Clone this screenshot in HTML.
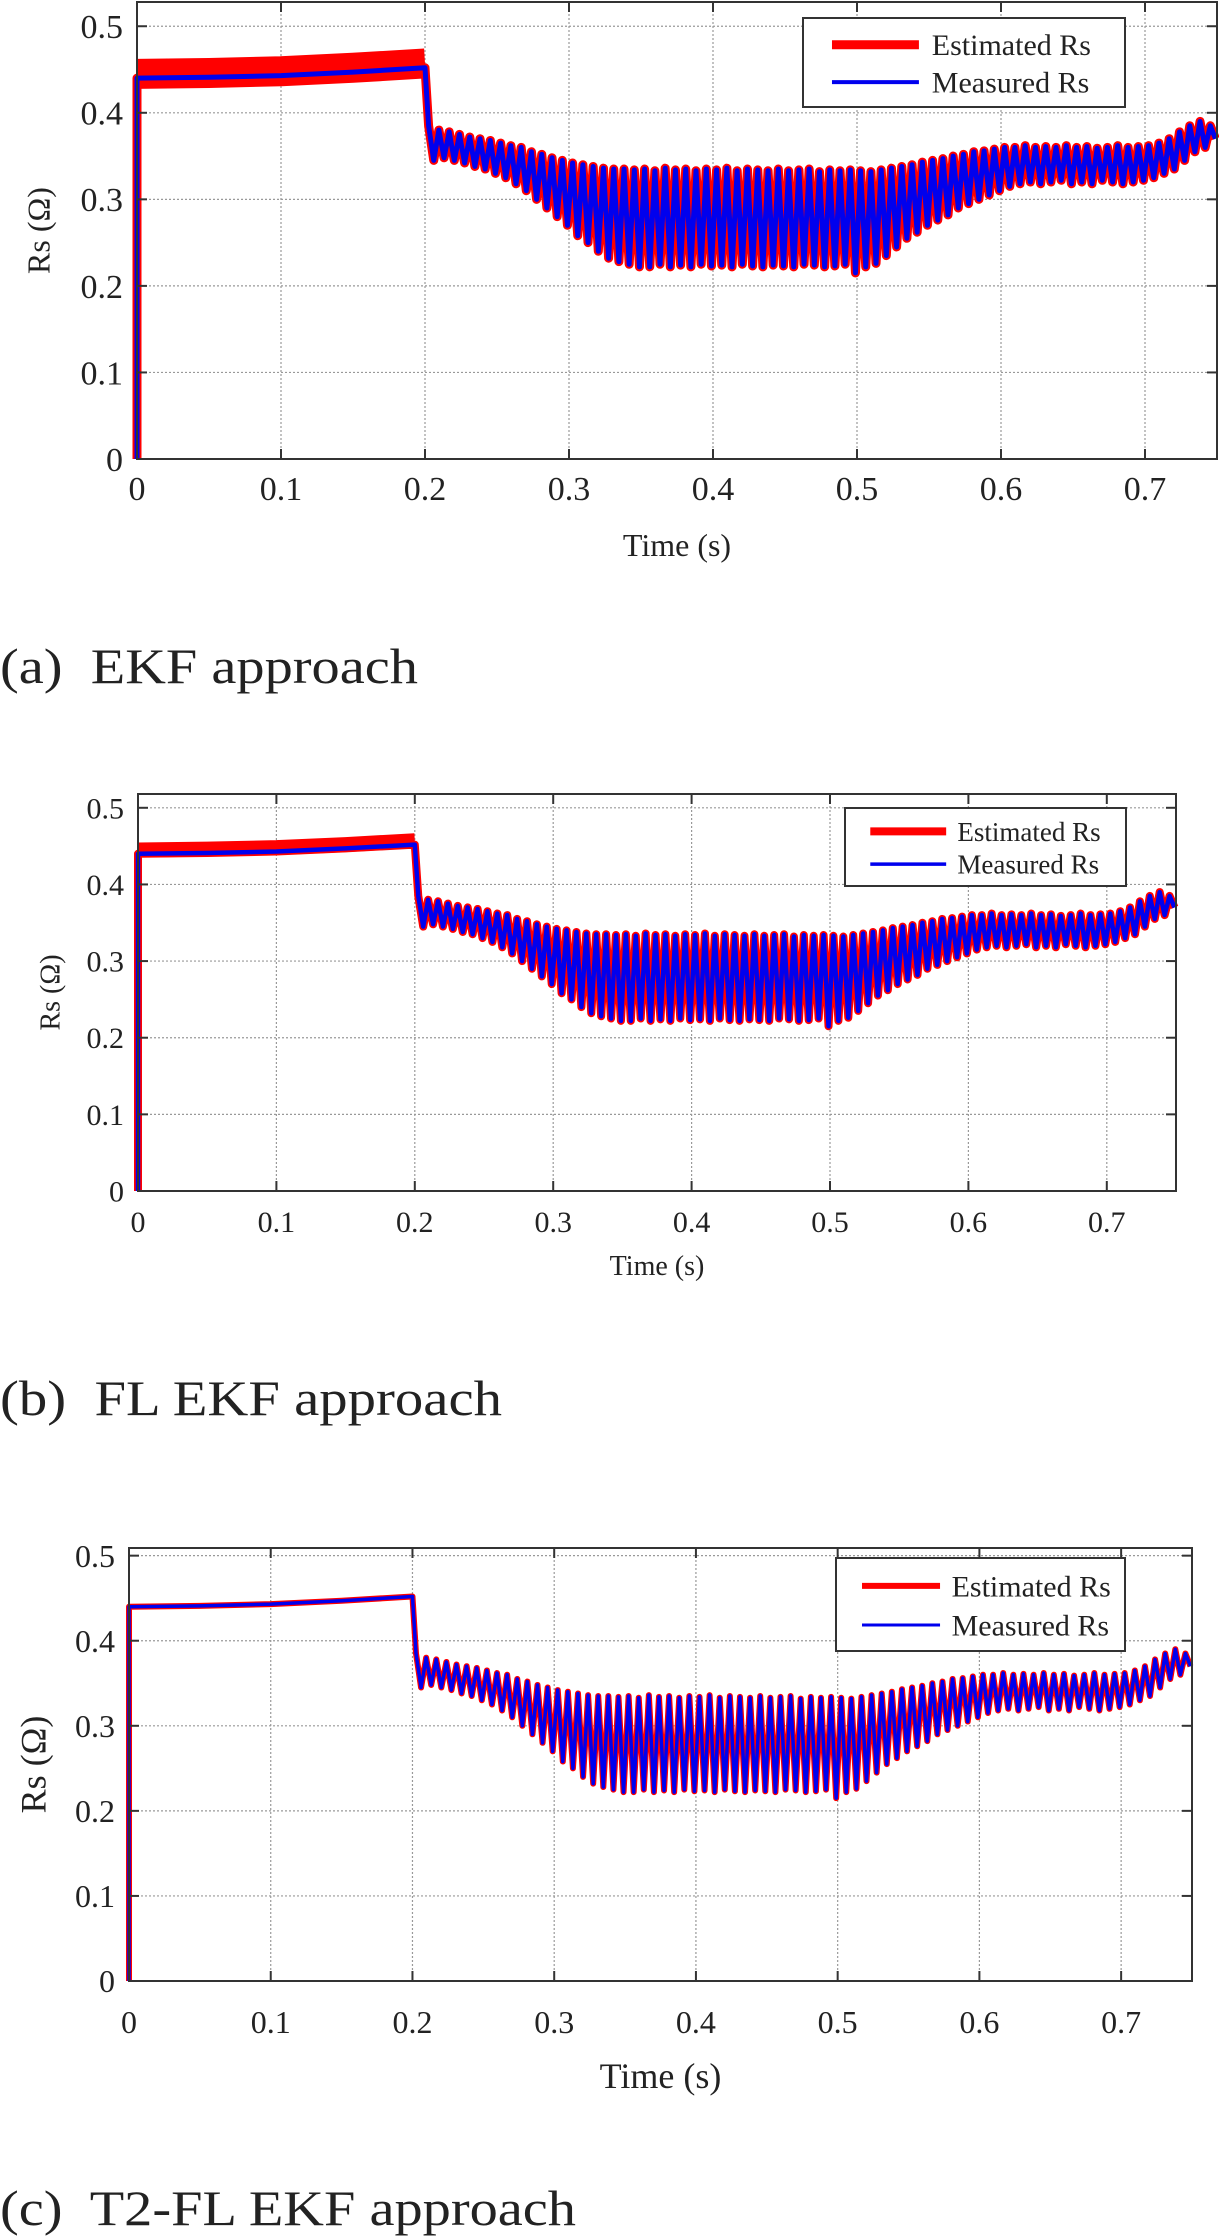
<!DOCTYPE html>
<html><head><meta charset="utf-8"><style>
html,body{margin:0;padding:0;background:#fff}
svg{display:block}
text{font-family:"Liberation Serif","Times New Roman",serif;fill:#222}
.cap{white-space:pre}
</style></head><body>
<svg id="fig" width="1219" height="2238" viewBox="0 0 1219 2238" xmlns="http://www.w3.org/2000/svg"></svg>
<script>
// ---- data ----
const xTicks = [0, 0.1, 0.2, 0.3, 0.4, 0.5, 0.6, 0.7];
const yTicks = [0, 0.1, 0.2, 0.3, 0.4, 0.5];
const startT = [0, 0.05, 0.1, 0.15, 0.2];
const startV = [0.44, 0.441, 0.443, 0.447, 0.452];
const cycleStart = 0.2;
const cycleEnd = 0.75;
const peaks = [0.385,0.38,0.378,0.375,0.372,0.37,0.368,
0.365,0.362,0.36,0.355,0.352,0.348,0.345,
0.342,0.34,0.338,0.336,0.335,0.335,0.334,
0.335,0.333,0.336,0.334,0.335,0.333,0.335,
0.334,0.336,0.333,0.335,0.334,0.333,0.335,
0.333,0.334,0.335,0.332,0.334,0.333,0.334,
0.333,0.332,0.334,0.336,0.338,0.34,0.343,
0.345,0.347,0.35,0.352,0.355,0.356,0.358,
0.36,0.36,0.362,0.36,0.361,0.36,0.362,
0.36,0.361,0.359,0.36,0.362,0.36,0.361,
0.362,0.365,0.37,0.378,0.385,0.39,0.385];
const troughs = [0.345,0.348,0.345,0.342,0.338,0.335,0.33,
0.325,0.318,0.31,0.3,0.29,0.28,0.27,
0.258,0.25,0.24,0.232,0.228,0.225,0.222,
0.222,0.225,0.222,0.224,0.222,0.225,0.223,
0.224,0.222,0.225,0.223,0.222,0.224,0.223,
0.222,0.225,0.224,0.222,0.223,0.225,0.215,
0.222,0.226,0.235,0.245,0.255,0.262,0.27,
0.276,0.282,0.29,0.295,0.3,0.305,0.31,
0.315,0.318,0.32,0.318,0.32,0.322,0.318,
0.32,0.318,0.322,0.32,0.318,0.32,0.322,
0.325,0.33,0.335,0.345,0.355,0.36,0.37];

const panels = [
 {id:'a',L:137,R:1217,T:2,B:459,ymax:0.528,tf:34,yl:42,xb:500,tb:556,lf:32,
  leg:[803,18,1125,107],lgf:30,redW:9,blueW:5,bandW:30,cap:'(a)  EKF approach',capY:683,capW:418},
 {id:'b',L:138,R:1176,T:794,B:1191,ymax:0.518,tf:30,yl:53,xb:1232,tb:1275,lf:28,
  leg:[845,808,1126,886],lgf:27,redW:8,blueW:4.5,bandW:15,cap:'(b)  FL EKF approach',capY:1415,capW:502},
 {id:'c',L:129,R:1192,T:1548,B:1981,ymax:0.509,tf:32,yl:37,xb:2033,tb:2088,lf:36,
  leg:[836,1558,1125,1651],lgf:30,redW:6,blueW:3.5,bandW:0,cap:'(c)  T2-FL EKF approach',capY:2225,capW:576}
];

const NS='http://www.w3.org/2000/svg';
const svg=document.getElementById('fig');
function mk(tag,attrs,parent,txt){const e=document.createElementNS(NS,tag);for(const k in attrs)e.setAttribute(k,attrs[k]);if(txt!==undefined)e.textContent=txt;(parent||svg).appendChild(e);return e;}

panels.forEach(p=>{
  const g=mk('g',{});
  
  
  const X=t=>p.L+(t/0.75)*(p.R-p.L);
  const Y=v=>p.B-(v/p.ymax)*(p.B-p.T);
  xTicks.forEach(t=>{
    const l=mk('line',{x1:X(t),x2:X(t),y1:p.T,y2:p.B,stroke:'#999','stroke-width':1.2,'stroke-dasharray':'2,2'},g);
    
    
  });
  yTicks.forEach(v=>{
    const l=mk('line',{x1:p.L,x2:p.R,y1:Y(v),y2:Y(v),stroke:'#999','stroke-width':1.2,'stroke-dasharray':'2,2'},g);
    
    
  });
  const P=(cycleEnd-cycleStart)/peaks.length;
  let d='M'+X(0)+','+Y(0);
  for(let i=0;i<startT.length;i++) d+=' L'+X(startT[i])+','+Y(startV[i]);
  for(let i=0;i<peaks.length;i++){
    const t0=cycleStart+i*P;
    d+=' L'+X(t0+P*0.35)+','+Y(peaks[i]);
    d+=' L'+X(t0+P*0.85)+','+Y(troughs[i]);
  }
  let d1='';
  for(let i=0;i<startT.length;i++) d1+=(i?' L':'M')+X(startT[i])+','+Y(startV[i]+0.005);
  if(p.bandW>0){
    const band=mk('path',{d:d1,fill:'none',stroke:'#ff0000','stroke-width':p.bandW,'stroke-linejoin':'round'},g);
    
    
  }
  const est=mk('path',{d:d,fill:'none',stroke:'#ff0000','stroke-width':p.redW,'stroke-linejoin':'round'},g);
  
  
  const meas=mk('path',{d:d,fill:'none',stroke:'#0000ee','stroke-width':p.blueW,'stroke-linejoin':'round'},g);
  
  
  const box=mk('rect',{x:p.L,y:p.T,width:p.R-p.L,height:p.B-p.T,fill:'none',stroke:'#333','stroke-width':2},g);
  
  
  xTicks.forEach(t=>{
    mk('line',{x1:X(t),x2:X(t),y1:p.B,y2:p.B-10,stroke:'#333','stroke-width':2},g);
    mk('line',{x1:X(t),x2:X(t),y1:p.T,y2:p.T+10,stroke:'#333','stroke-width':2},g);
    const tl=mk('text',{x:X(t),y:p.xb,'font-size':p.tf,'text-anchor':'middle'},g,String(t));
    
    
  });
  yTicks.forEach(v=>{
    mk('line',{x1:p.L,x2:p.L+10,y1:Y(v),y2:Y(v),stroke:'#333','stroke-width':2},g);
    mk('line',{x1:p.R,x2:p.R-10,y1:Y(v),y2:Y(v),stroke:'#333','stroke-width':2},g);
    const tl=mk('text',{x:p.L-14,y:Y(v)+p.tf*0.35,'font-size':p.tf,'text-anchor':'end'},g,String(v));
    
    
  });
  const xt=mk('text',{x:(p.L+p.R)/2,y:p.tb,'font-size':p.lf,'text-anchor':'middle'},g,'Time (s)');
  
  
  const yc=(p.T+p.B)/2;
  const yt=mk('text',{x:p.yl,y:yc,'font-size':p.lf,'text-anchor':'middle',transform:'rotate(-90 '+p.yl+' '+yc+')','dominant-baseline':'middle'},g,'Rs (Ω)');
  
  
  const [lx1,ly1,lx2,ly2]=p.leg;
  const lg=mk('g',{},g);
  
  
  mk('rect',{x:lx1,y:ly1,width:lx2-lx1,height:ly2-ly1,fill:'#fff',stroke:'#333','stroke-width':2},lg);
  const h=ly2-ly1, r1=ly1+h*0.3, r2=ly1+h*0.72;
  const w=lx2-lx1;
  mk('line',{x1:lx1+w*0.09,x2:lx1+w*0.36,y1:r1,y2:r1,stroke:'#ff0000','stroke-width':p.redW},lg);
  mk('line',{x1:lx1+w*0.09,x2:lx1+w*0.36,y1:r2,y2:r2,stroke:'#0000ee','stroke-width':Math.max(3,p.blueW-1)},lg);
  const e1=mk('text',{x:lx1+w*0.4,y:r1+p.lgf*0.35,'font-size':p.lgf},lg,'Estimated Rs');
  
  
  const e2=mk('text',{x:lx1+w*0.4,y:r2+p.lgf*0.35,'font-size':p.lgf},lg,'Measured Rs');
  
  
  const cap=mk('text',{x:0,y:p.capY,'font-size':50,textLength:p.capW,lengthAdjust:'spacingAndGlyphs','class':'cap'},g,p.cap);
  
  
});
</script>
</body></html>
